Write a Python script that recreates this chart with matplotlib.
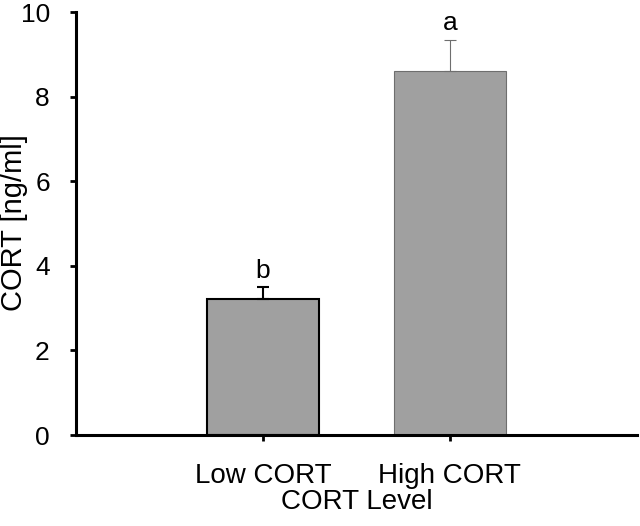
import numpy as np
import matplotlib.pyplot as plt

plt.rcParams['font.family'] = ['Liberation Sans', 'DejaVu Sans']

# data
groups = ['Low CORT', 'High CORT']
means = [3.21, 8.60]
errs = [0.28, 0.75]
letters = ['b', 'a']
edge_cols = ['black', '#6e6e6e']
edge_w = [1.5, 0.8]

fig = plt.figure(figsize=(6.4, 5.26), dpi=100)
ax = fig.add_axes([0.119, 0.173, 0.876, 0.804])

x = np.arange(1, len(groups) + 1)
for i in range(len(groups)):
    ax.bar(x[i], means[i], width=0.6, color='#a0a0a0',
           edgecolor=edge_cols[i], linewidth=edge_w[i], zorder=2)
    ax.errorbar(x[i], means[i], yerr=[[0], [errs[i]]], fmt='none',
                ecolor=edge_cols[i], elinewidth=edge_w[i], capsize=4,
                capthick=edge_w[i], zorder=3)
    ax.text(x[i], means[i] + errs[i] + 0.1, letters[i], ha='center',
            va='bottom', fontsize=19)

ax.set_xlim(0, 3)
ax.set_ylim(0, 10)
ax.set_yticks(np.arange(0, 11, 2))
ax.set_xticks(x)
ax.set_xticklabels(groups)
ax.tick_params(axis='both', width=2, length=4, direction='out')
ax.tick_params(axis='y', labelsize=19, pad=15)
ax.tick_params(axis='x', labelsize=20, pad=16)
for s in ['top', 'right']:
    ax.spines[s].set_visible(False)
for s in ['left', 'bottom']:
    ax.spines[s].set_linewidth(2.2)
    ax.spines[s].set_zorder(4)
ax.set_xlabel('CORT Level', fontsize=20, labelpad=0)
fig.text(14 / 640, 1 - 223 / 526, 'CORT [ng/ml]', rotation=90,
         ha='center', va='center', fontsize=21)

fig.savefig('out.png', dpi=100)
